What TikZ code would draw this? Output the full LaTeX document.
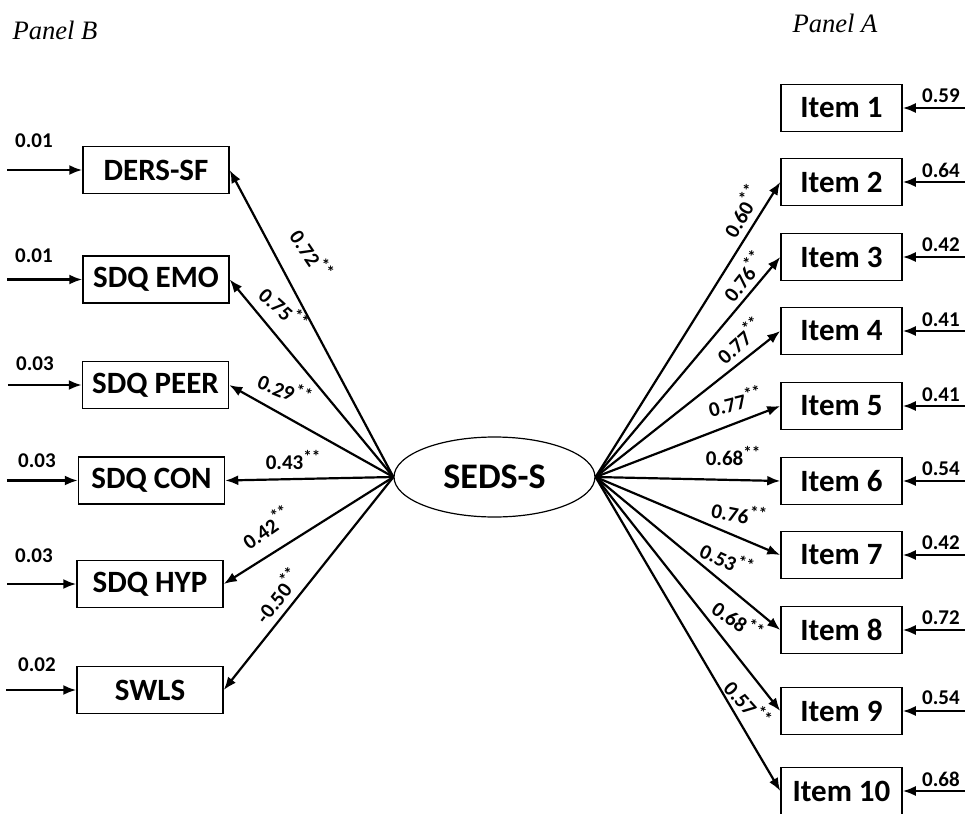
\documentclass[tikz,border=0pt]{standalone}
\usepackage{fontspec}
\setmainfont{Carlito}
\newfontfamily\panelfont{Liberation Serif}
\usetikzlibrary{arrows.meta,shapes.geometric}
\newcommand{\pstar}{\raisebox{0.75ex}{\fontsize{8.5}{9}\selectfont**}}

\begin{document}
\begin{tikzpicture}[x=0.5pt,y=-0.5pt,
	obs/.style={draw,line width=0.75pt,minimum height=23.5pt,inner sep=0pt,font=\fontsize{15.5}{18}\selectfont\bfseries},
	lft/.style={obs,minimum width=73pt},
	itm/.style={obs,minimum width=60.5pt},
	lat/.style={draw,ellipse,line width=0.6pt,minimum width=100.5pt,minimum height=40pt,inner sep=0pt,font=\fontsize{18}{21}\selectfont\bfseries},
	arr/.style={-{Latex[length=6.5pt,width=5pt]},line width=1.1pt},
	num/.style={font=\fontsize{10.5}{12}\selectfont\bfseries,inner sep=0pt},
	pnl/.style={font=\fontsize{13.3}{15}\selectfont\panelfont\itshape,inner sep=0pt}]
	\useasboundingbox (0,0) rectangle (965,814);

	\node[pnl] (pb) at (55,30) {Panel B};
	\node[pnl] (pa) at (835,23) {Panel A};

	% latent factor
	\node[lat] (seds) at (494.5,477) {SEDS-S};

	% panel B
	\node[lft] (ders) at (156,170) {DERS-SF};
	\node[lft] (emo) at (156,279.5) {SDQ EMO};
	\node[lft] (peer) at (155.5,385) {SDQ PEER};
	\node[lft] (con) at (151.5,480.5) {SDQ CON};
	\node[lft] (hyp) at (150,584) {SDQ HYP};
	\node[lft] (swls) at (150,690) {SWLS};

	\draw[arr] (seds.west) -- (ders.east);
	\draw[arr] (seds.west) -- (emo.east);
	\draw[arr] (seds.west) -- (peer.east);
	\draw[arr] (seds.west) -- (con.east);
	\draw[arr] (seds.west) -- (hyp.east);
	\draw[arr] (seds.west) -- (swls.east);

	\node[num,rotate=-56] (l1) at (312,254) {0.72\pstar};
	\node[num,rotate=-42] (l2) at (284,308) {0.75\pstar};
	\node[num,rotate=-22] (l3) at (285,389) {0.29\pstar};
	\node[num] (l4) at (293,460) {0.43\pstar};
	\node[num,rotate=35] (l5) at (266,527) {0.42\pstar};
	\node[num,rotate=52] (l6) at (277,595) {-0.50\pstar};

	\draw[arr] ([xshift=-37.5pt]ders.west) -- (ders.west);
	\draw[arr] ([xshift=-37.5pt]emo.west) -- (emo.west);
	\draw[arr] ([xshift=-37pt]peer.west) -- (peer.west);
	\draw[arr] ([xshift=-35.5pt]con.west) -- (con.west);
	\draw[arr] ([xshift=-34.5pt]hyp.west) -- (hyp.west);
	\draw[arr] ([xshift=-35pt]swls.west) -- (swls.west);

	\node[num] (e1) at (34,141) {0.01};
	\node[num] (e2) at (34,256) {0.01};
	\node[num] (e3) at (35,364) {0.03};
	\node[num] (e4) at (37,461) {0.03};
	\node[num] (e5) at (34,556) {0.03};
	\node[num] (e6) at (37,665) {0.02};

	% panel A
	\node[itm] (i1) at (841.5,108) {Item 1};
	\node[itm] (i2) at (841.5,182) {Item 2};
	\node[itm] (i3) at (841.5,257) {Item 3};
	\node[itm] (i4) at (841.5,331) {Item 4};
	\node[itm] (i5) at (841.5,406) {Item 5};
	\node[itm] (i6) at (841.5,481) {Item 6};
	\node[itm] (i7) at (841.5,555) {Item 7};
	\node[itm] (i8) at (841.5,630) {Item 8};
	\node[itm] (i9) at (841.5,711) {Item 9};
	\node[itm] (i10) at (841.5,791) {Item 10};

	\draw[arr] (seds.east) -- (i2.west);
	\draw[arr] (seds.east) -- (i3.west);
	\draw[arr] (seds.east) -- (i4.west);
	\draw[arr] (seds.east) -- (i5.west);
	\draw[arr] (seds.east) -- (i6.west);
	\draw[arr] (seds.east) -- (i7.west);
	\draw[arr] (seds.east) -- (i8.west);
	\draw[arr] (seds.east) -- (i9.west);
	\draw[arr] (seds.east) -- (i10.west);

	\node[num,rotate=60] (r2) at (741,211) {0.60\pstar};
	\node[num,rotate=52] (r3) at (743,276) {0.76\pstar};
	\node[num,rotate=42] (r4) at (739,340) {0.77\pstar};
	\node[num,rotate=14] (r5) at (735,401) {0.77\pstar};
	\node[num] (r6) at (733,456) {0.68\pstar};
	\node[num,rotate=-11] (r7) at (739,513) {0.76\pstar};
	\node[num,rotate=-25] (r8) at (727,559) {0.53\pstar};
	\node[num,rotate=-35] (r9) at (738,620) {0.68\pstar};
	\node[num,rotate=-48] (r10) at (748,703) {0.57\pstar};

	\draw[arr] ([xshift=31.5pt]i1.east) -- (i1.east);
	\draw[arr] ([xshift=31.5pt]i2.east) -- (i2.east);
	\draw[arr] ([xshift=31.5pt]i3.east) -- (i3.east);
	\draw[arr] ([xshift=31.5pt]i4.east) -- (i4.east);
	\draw[arr] ([xshift=31.5pt]i5.east) -- (i5.east);
	\draw[arr] ([xshift=31.5pt]i6.east) -- (i6.east);
	\draw[arr] ([xshift=31.5pt]i7.east) -- (i7.east);
	\draw[arr] ([xshift=31.5pt]i8.east) -- (i8.east);
	\draw[arr] ([xshift=31.5pt]i9.east) -- (i9.east);
	\draw[arr] ([xshift=31.5pt]i10.east) -- (i10.east);

	\node[num] (u1) at (941,96) {0.59};
	\node[num] (u2) at (941,170) {0.64};
	\node[num] (u3) at (941,245) {0.42};
	\node[num] (u4) at (941,320) {0.41};
	\node[num] (u5) at (941,395) {0.41};
	\node[num] (u6) at (941,469) {0.54};
	\node[num] (u7) at (941,543) {0.42};
	\node[num] (u8) at (941,618) {0.72};
	\node[num] (u9) at (941,698) {0.54};
	\node[num] (u10) at (941,779) {0.68};
\end{tikzpicture}
\end{document}
